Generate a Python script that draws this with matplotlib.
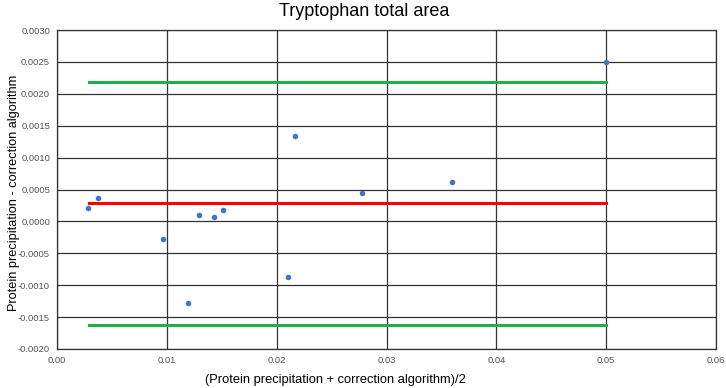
import matplotlib
matplotlib.use("Agg")
import matplotlib.pyplot as plt

plt.rcParams['font.family'] = ['Liberation Sans', 'DejaVu Sans']

x_vals = [0.00285, 0.00375, 0.00966, 0.01194, 0.01294, 0.01427, 0.01509, 0.02103, 0.02164, 0.02775, 0.03594, 0.05000]
y_vals = [0.00021, 0.000367, -0.000276, -0.001274, 0.0001, 0.000074, 0.000183, -0.000877, 0.001343, 0.00045, 0.000613, 0.0025]

line_x = [0.00287, 0.0500]
mean_diff = 0.000288
upper_loa = 0.00219
lower_loa = -0.00162

x_ticks = [0.00, 0.01, 0.02, 0.03, 0.04, 0.05, 0.06]
y_ticks = [-0.0020, -0.0015, -0.0010, -0.0005, 0.0000, 0.0005, 0.0010, 0.0015, 0.0020, 0.0025, 0.0030]

W, H = 726, 388
fig = plt.figure(figsize=(W/100, H/100), dpi=100)
ax = fig.add_axes([57/W, 1-349/H, (716-57)/W, (349-30)/H])

ax.plot(line_x, [upper_loa, upper_loa], color='#1fb04b', lw=2.2, zorder=3)
ax.plot(line_x, [lower_loa, lower_loa], color='#1fb04b', lw=2.2, zorder=3)
ax.plot(line_x, [mean_diff, mean_diff], color='#ff0000', lw=2.2, zorder=3)
ax.scatter(x_vals, y_vals, s=16, color='#4472c4', zorder=4, linewidths=0)

ax.set_xlim(0, 0.06)
ax.set_ylim(-0.002, 0.003)
ax.set_xticks(x_ticks)
ax.set_yticks(y_ticks)
ax.set_xticklabels([f"{v:.2f}" for v in x_ticks])
ax.set_yticklabels([f"{v:.4f}" for v in y_ticks])
ax.grid(True, color='#333333', lw=0.9)
ax.set_axisbelow(True)
for s in ax.spines.values():
    s.set_color('#333333')
    s.set_linewidth(0.9)
ax.tick_params(length=0, labelsize=6.8, colors='#555555', pad=5)

fig.text(335/W, 1-380/H, "(Protein precipitation + correction algorithm)/2",
         fontsize=9.3, ha='center', va='center')
fig.text(14/W, 1-193/H, "Protein precipitation - correction algorithm",
         fontsize=9.2, ha='center', va='center', rotation=90)
fig.text(364/W, 1-11/H, "Tryptophan total area", fontsize=13, ha='center', va='center')

fig.savefig("out.png", dpi=100)
